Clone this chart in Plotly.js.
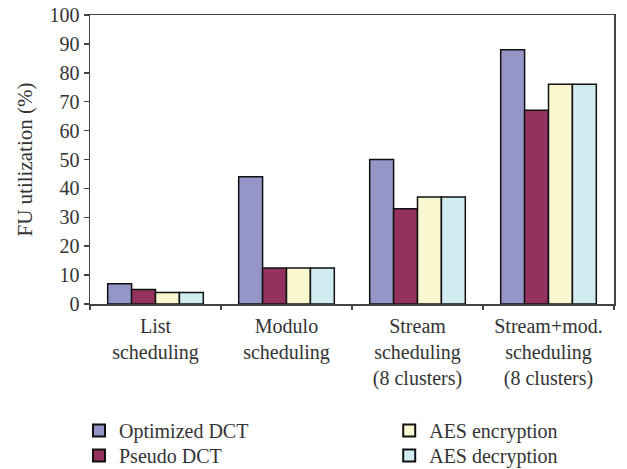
<!DOCTYPE html>
<html><head><meta charset="utf-8">
<script src="https://cdn.plot.ly/plotly-3.0.1.min.js"></script>
<style>html,body{margin:0;padding:0;background:#fff}</style>
</head><body><div id="chart" style="width:627px;height:469px"></div>
<script>
const categories = ["List<br>scheduling", "Modulo<br>scheduling", "Stream<br>scheduling<br>(8 clusters)", "Stream+mod.<br>scheduling<br>(8 clusters)"];
const optimizedDCT = [7, 44, 50, 88];
const pseudoDCT = [5, 12.5, 33, 67];
const aesEncryption = [4, 12.5, 37, 76];
const aesDecryption = [4, 12.5, 37, 76];
const seriesNames = ["Optimized DCT", "Pseudo DCT", "AES encryption", "AES decryption"];
const yTicks = [0, 10, 20, 30, 40, 50, 60, 70, 80, 90, 100];

const colors = ["#9595C8", "#93325E", "#FAF8D0", "#D0ECF0"];
const legends = ["legend", "legend2", "legend3", "legend4"];
const data = [optimizedDCT, pseudoDCT, aesEncryption, aesDecryption].map((v, i) => ({
  type: "bar", x: categories, y: v, name: seriesNames[i], legend: legends[i],
  marker: {color: colors[i], line: {color: "#111", width: 1.5}}
}));
const fam = "Liberation Serif, Times New Roman, serif";
const font = {family: fam, size: 20, color: "#333"};
const legFont = {family: fam, size: 20, color: "#333"};
function leg(x, y) {
  return {x: x, xanchor: "left", y: y, yanchor: "top", orientation: "v", font: legFont,
    tracegroupgap: 0, itemsizing: "constant", bgcolor: "rgba(0,0,0,0)"};
}
const layout = {
  width: 627, height: 469,
  margin: {l: 90, r: 13, t: 15, b: 165, autoexpand: false},
  font: font,
  barmode: "group", bargap: 0.27, bargroupgap: 0,
  plot_bgcolor: "#fff", paper_bgcolor: "#fff",
  xaxis: {type: "category", showline: true, linecolor: "#444", linewidth: 1.5, mirror: true,
    ticks: "outside", tickson: "boundaries", ticklen: 4, tickcolor: "#444", tickwidth: 1.5,
    showgrid: false, tickfont: font, automargin: false, ticklabelstandoff: 3},
  yaxis: {range: [0, 100], tickvals: yTicks, showline: true, linecolor: "#444", linewidth: 1.5, mirror: true,
    ticks: "outside", ticklen: 5, tickcolor: "#444", tickwidth: 1.5, showgrid: false, zeroline: false,
    tickfont: font, automargin: false,
    title: {text: "FU utilization (%)", font: {family: fam, size: 21, color: "#333"}, standoff: 11}},
  showlegend: true,
  legend: leg(-0.021, -0.370),
  legend2: leg(-0.021, -0.457),
  legend3: leg(0.571, -0.370),
  legend4: leg(0.571, -0.457)
};
Plotly.newPlot("chart", data, layout, {displayModeBar: false, staticPlot: true});
</script></body></html>
